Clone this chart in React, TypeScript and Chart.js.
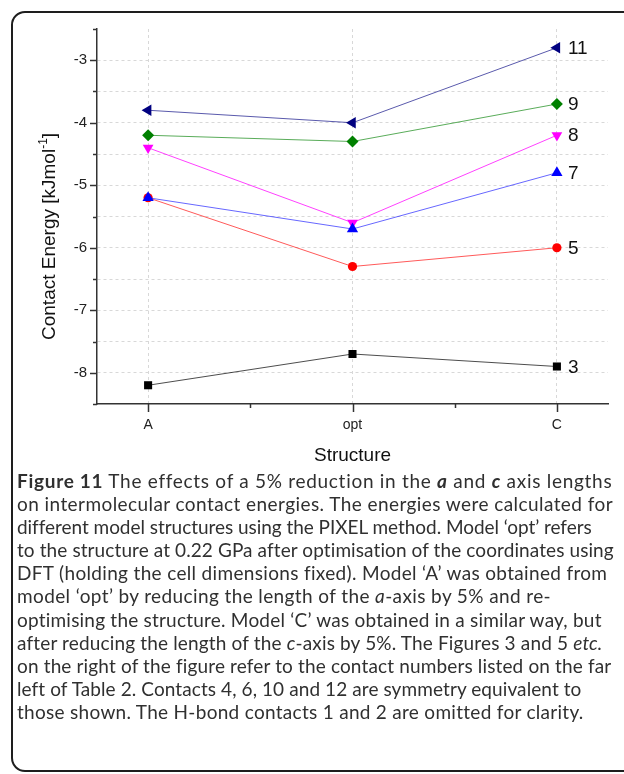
import React, { useEffect, useLayoutEffect, useRef } from "react";
import { Chart, registerables } from "chart.js";

Chart.register(...registerables);

// Model structures along the x axis
const structures = ["A", "opt", "C"];

// PIXEL contact energies (kJ/mol) per contact, for structures A, opt, C
const contact3 = [-8.2, -7.7, -7.9];
const contact5 = [-5.2, -6.3, -6.0];
const contact7 = [-5.2, -5.7, -4.8];
const contact8 = [-4.4, -5.6, -4.2];
const contact9 = [-4.2, -4.3, -3.7];
const contact11 = [-3.8, -4.0, -2.8];

// Contact numbers printed at the right end of each line
const contactNumbers = ["3", "5", "7", "8", "9", "11"];

// Y axis range and gridline positions
const yMin = -8.5;
const yMax = -2.5;
const yGridValues = [-8, -7.5, -7, -6.5, -6, -5.5, -5, -4.5, -4, -3.5, -3];

const AXIS_FONT = "'Liberation Sans', Arial, Helvetica, sans-serif";

type SeriesStyle = {
  color: string;
  line: string;
  pointStyle: string;
  radius: number;
  rotation: number;
  order: number;
};

const seriesStyles: SeriesStyle[] = [
  { color: "#000000", line: "rgba(0,0,0,0.7)", pointStyle: "rect", radius: 5.7, rotation: 0, order: 5 },
  { color: "#ff0000", line: "rgba(255,0,0,0.65)", pointStyle: "circle", radius: 4.6, rotation: 0, order: 2 },
  { color: "#0000ff", line: "rgba(0,0,255,0.6)", pointStyle: "triangle", radius: 6.5, rotation: 0, order: 0 },
  { color: "#ff00ff", line: "rgba(255,0,255,0.75)", pointStyle: "triangle", radius: 6.2, rotation: 180, order: 1 },
  { color: "#008000", line: "rgba(0,128,0,0.65)", pointStyle: "rectRot", radius: 6, rotation: 0, order: 3 },
  { color: "#000080", line: "rgba(0,0,128,0.65)", pointStyle: "triangle", radius: 6.5, rotation: -90, order: 4 },
];

const seriesValues = [contact3, contact5, contact7, contact8, contact9, contact11];

// Tick marks, axis titles and contact numbers
const decorPlugin = {
  id: "decor",
  afterDatasetsDraw(chart: any) {
    const ctx = chart.ctx as CanvasRenderingContext2D;
    ctx.save();
    ctx.font = `19px ${AXIS_FONT}`;
    ctx.fillStyle = "#111";
    ctx.textAlign = "left";
    ctx.textBaseline = "middle";
    chart.data.datasets.forEach((_ds: any, i: number) => {
      const meta = chart.getDatasetMeta(i);
      const last = meta.data[meta.data.length - 1];
      ctx.fillText(contactNumbers[i], last.x + 11, last.y + 1);
    });
    ctx.restore();
  },
  afterDraw(chart: any) {
    const ctx = chart.ctx as CanvasRenderingContext2D;
    const { left, right, bottom } = chart.chartArea;
    const xs = chart.scales.x;
    const ys = chart.scales.y;
    ctx.save();
    ctx.strokeStyle = "#333";
    ctx.lineWidth = 1.5;
    // y ticks: major on integers, minor on halves
    for (let v = yMin; v <= yMax + 1e-9; v += 0.5) {
      const y = Math.round(ys.getPixelForValue(v)) + 0.5;
      const len = Number.isInteger(v) ? 7 : 4;
      ctx.beginPath();
      ctx.moveTo(left, y);
      ctx.lineTo(left - len, y);
      ctx.stroke();
    }
    // x ticks: major at structures, minor between them
    for (let v = 0; v <= 2 + 1e-9; v += 0.5) {
      const x = Math.round(xs.getPixelForValue(v)) + 0.5;
      const len = Number.isInteger(v) ? 8 : 4;
      ctx.beginPath();
      ctx.moveTo(x, bottom);
      ctx.lineTo(x, bottom + len);
      ctx.stroke();
    }
    // x title
    ctx.fillStyle = "#111";
    ctx.font = `19px ${AXIS_FONT}`;
    ctx.textAlign = "center";
    ctx.textBaseline = "alphabetic";
    ctx.fillText("Structure", (left + right) / 2, 461);
    // y title with superscript
    ctx.translate(55, 340);
    ctx.rotate(-Math.PI / 2);
    ctx.textAlign = "left";
    const main = "Contact Energy [kJmol";
    ctx.font = `19px ${AXIS_FONT}`;
    ctx.fillText(main, 0, 0);
    let w = ctx.measureText(main).width;
    ctx.font = `12px ${AXIS_FONT}`;
    ctx.fillText("-1", w, -8);
    w += ctx.measureText("-1").width;
    ctx.font = `19px ${AXIS_FONT}`;
    ctx.fillText("]", w, 0);
    ctx.restore();
  },
};

function EnergyChart() {
  const canvasRef = useRef<HTMLCanvasElement | null>(null);

  useEffect(() => {
    const canvas = canvasRef.current;
    if (!canvas) return;
    const datasets = seriesValues.map((vals, i) => {
      const s = seriesStyles[i];
      return {
        label: contactNumbers[i],
        data: vals.map((v, k) => ({ x: k, y: v })),
        borderColor: s.line,
        borderWidth: 1,
        backgroundColor: s.color,
        pointBackgroundColor: s.color,
        pointBorderColor: s.color,
        pointBorderWidth: 0,
        pointStyle: s.pointStyle,
        pointRadius: s.radius,
        pointRotation: s.rotation,
        order: s.order,
        tension: 0,
        fill: false,
      };
    });

    const chart = new Chart(canvas, {
      type: "line",
      data: { datasets } as any,
      options: {
        animation: false,
        responsive: false,
        devicePixelRatio: 1,
        layout: { padding: { left: 0, right: 16, top: 29, bottom: 0 } },
        plugins: { legend: { display: false }, tooltip: { enabled: false } },
        scales: {
          x: {
            type: "linear",
            min: -0.25,
            max: 2.25,
            afterBuildTicks: (s: any) => {
              s.ticks = structures.map((_, i) => ({ value: i }));
            },
            afterFit: (s: any) => {
              s.height = 66;
            },
            ticks: {
              autoSkip: false,
              maxRotation: 0,
              padding: 13,
              color: "#222",
              font: { family: AXIS_FONT, size: 14 },
              callback: (v: any) => structures[Math.round(Number(v))] ?? "",
            },
            grid: { drawTicks: false, color: "#d8d8d8", lineWidth: 1 },
            border: { display: true, color: "#333", width: 1.5, dash: [3, 3] },
          },
          y: {
            type: "linear",
            min: yMin,
            max: yMax,
            afterBuildTicks: (s: any) => {
              s.ticks = yGridValues.map((v) => ({ value: v }));
            },
            afterFit: (s: any) => {
              s.width = 97;
            },
            ticks: {
              padding: 10,
              color: "#222",
              font: { family: AXIS_FONT, size: 15 },
              callback: (v: any) => (Number.isInteger(Number(v)) ? String(v) : ""),
            },
            grid: { drawTicks: false, color: "#d8d8d8", lineWidth: 1 },
            border: { display: true, color: "#333", width: 1.5, dash: [3, 3] },
          },
        },
      } as any,
      plugins: [decorPlugin],
    });
    return () => chart.destroy();
  }, []);

  return (
    <canvas
      ref={canvasRef}
      width={624}
      height={470}
      style={{ position: "absolute", left: 0, top: 0, width: 624, height: 470 }}
    />
  );
}

// Caption lines are set ragged-right; each line is stretched to its own right edge.
const CAPTION_LEFT = 17;
const captionRightEdges = [612, 613, 591, 614, 607, 551, 602, 602, 611, 581, 583];

const captionStyle: React.CSSProperties = {
  position: "absolute",
  left: CAPTION_LEFT,
  top: 469,
  fontFamily: "Lato, 'Open Sans', sans-serif",
  fontSize: 19,
  lineHeight: "23.1px",
  color: "#303030",
  whiteSpace: "nowrap",
};

function Caption() {
  const lineRefs = useRef<(HTMLSpanElement | null)[]>([]);

  useLayoutEffect(() => {
    lineRefs.current.forEach((el, i) => {
      if (!el) return;
      el.style.letterSpacing = "0px";
      const natural = el.getBoundingClientRect().width;
      const target = captionRightEdges[i] - CAPTION_LEFT;
      const n = (el.textContent || "").length;
      if (n > 1) el.style.letterSpacing = `${(target - natural) / n}px`;
    });
  }, []);

  const setRef = (i: number) => (el: HTMLSpanElement | null) => {
    lineRefs.current[i] = el;
  };

  return (
    <div style={captionStyle}>
      <div>
        <span ref={setRef(0)}>
          <b>Figure 11</b> The effects of a 5% reduction in the <b><i>a</i></b> and <b><i>c</i></b> axis lengths
        </span>
      </div>
      <div>
        <span ref={setRef(1)}>on intermolecular contact energies. The energies were calculated for</span>
      </div>
      <div>
        <span ref={setRef(2)}>different model structures using the PIXEL method. Model ‘opt’ refers</span>
      </div>
      <div>
        <span ref={setRef(3)}>to the structure at 0.22 GPa after optimisation of the coordinates using</span>
      </div>
      <div>
        <span ref={setRef(4)}>DFT (holding the cell dimensions fixed). Model ‘A’ was obtained from</span>
      </div>
      <div>
        <span ref={setRef(5)}>
          model ‘opt’ by reducing the length of the <i>a</i>-axis by 5% and re-
        </span>
      </div>
      <div>
        <span ref={setRef(6)}>optimising the structure. Model ‘C’ was obtained in a similar way, but</span>
      </div>
      <div>
        <span ref={setRef(7)}>
          after reducing the length of the <i>c</i>-axis by 5%. The Figures 3 and 5 <i>etc.</i>
        </span>
      </div>
      <div>
        <span ref={setRef(8)}>on the right of the figure refer to the contact numbers listed on the far</span>
      </div>
      <div>
        <span ref={setRef(9)}>left of Table 2. Contacts 4, 6, 10 and 12 are symmetry equivalent to</span>
      </div>
      <div>
        <span ref={setRef(10)}>those shown. The H-bond contacts 1 and 2 are omitted for clarity.</span>
      </div>
    </div>
  );
}

export default function App() {
  return (
    <div
      style={{
        position: "absolute",
        left: 0,
        top: 0,
        width: 624,
        height: 774,
        overflow: "hidden",
        background: "#ffffff",
      }}
    >
      <div
        style={{
          position: "absolute",
          left: 11,
          top: 11,
          width: 660,
          height: 761,
          boxSizing: "border-box",
          border: "2px solid #1e1e1e",
          borderRadius: 14,
        }}
      />
      <EnergyChart />
      <Caption />
    </div>
  );
}
